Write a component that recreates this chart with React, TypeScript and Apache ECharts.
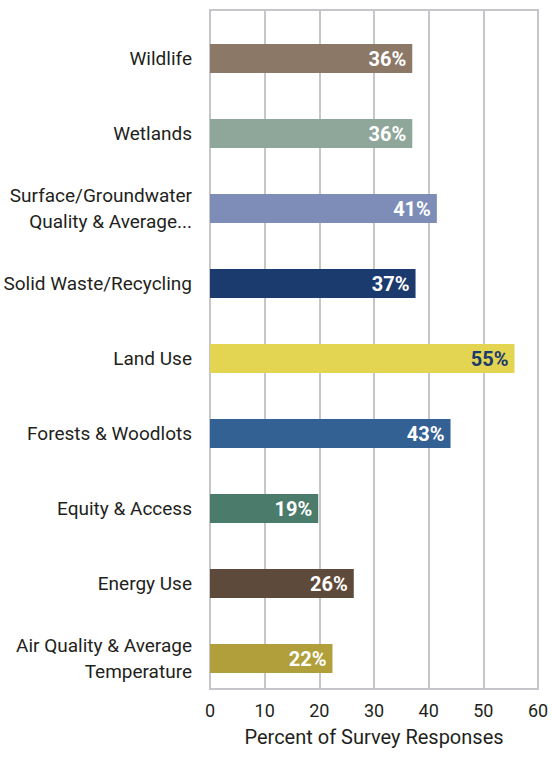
import React, { useEffect, useRef } from "react";
import * as echarts from "echarts";

const categories = [
  "Wildlife",
  "Wetlands",
  "Surface/Groundwater\nQuality & Average...",
  "Solid Waste/Recycling",
  "Land Use",
  "Forests & Woodlots",
  "Equity & Access",
  "Energy Use",
  "Air Quality & Average\nTemperature",
];
// bar lengths as drawn in the picture
const barValues = [37, 37, 41.5, 37.6, 55.7, 44, 19.8, 26.3, 22.4];
// percentages printed on the bars
const labelValues = [36, 36, 41, 37, 55, 43, 19, 26, 22];
const barColors = [
  "#8b7867",
  "#8fa69a",
  "#7d8db8",
  "#1b3a6e",
  "#e3d452",
  "#336194",
  "#4b7b6b",
  "#5e4a3a",
  "#b09f3a",
];
const labelColors = [
  "#ffffff",
  "#ffffff",
  "#ffffff",
  "#ffffff",
  "#1b3a6e",
  "#ffffff",
  "#ffffff",
  "#ffffff",
  "#ffffff",
];
const xTicks = { min: 0, max: 60, interval: 10 };
const xAxisName = "Percent of Survey Responses";

const FONT = "Roboto, 'Liberation Sans', Arial, sans-serif";

export default function App() {
  const ref = useRef<HTMLDivElement>(null);
  useEffect(() => {
    document.body.style.margin = "0";
    if (!ref.current) return;
    const chart = echarts.init(ref.current, null, { renderer: "svg" });
    chart.setOption({
      animation: false,
      backgroundColor: "#ffffff",
      textStyle: { fontFamily: FONT },
      grid: [
        {
          left: 210,
          right: 14,
          top: 10,
          bottom: 71,
          show: true,
          borderColor: "#c6c6ca",
          borderWidth: 2,
          backgroundColor: "transparent",
          containLabel: false,
          outerBoundsMode: "none",
        },
        {
          left: 210,
          right: 14,
          top: 21,
          bottom: 64,
          containLabel: false,
          outerBoundsMode: "none",
        },
      ],
      xAxis: [
        {
          gridIndex: 0,
          type: "value",
          min: xTicks.min,
          max: xTicks.max,
          interval: xTicks.interval,
          axisLine: { show: false },
          axisTick: { show: false },
          splitLine: { show: true, lineStyle: { color: "#c6c6ca", width: 2 } },
          axisLabel: { fontSize: 18, color: "#231f20", margin: 12, fontFamily: FONT },
          name: xAxisName,
          nameLocation: "middle",
          nameGap: 38,
          nameTextStyle: { fontSize: 20, color: "#231f20", fontFamily: FONT },
        },
        {
          gridIndex: 1,
          type: "value",
          min: xTicks.min,
          max: xTicks.max,
          show: false,
        },
      ],
      yAxis: [
        { gridIndex: 0, type: "value", show: false },
        {
          gridIndex: 1,
          type: "category",
          inverse: true,
          data: categories,
          axisLine: { show: false },
          axisTick: { show: false },
          splitLine: { show: false },
          axisLabel: {
            fontSize: 19,
            lineHeight: 26,
            color: "#231f20",
            margin: 18,
            fontFamily: FONT,
          },
        },
      ],
      series: [
        {
          type: "bar",
          xAxisIndex: 1,
          yAxisIndex: 1,
          barWidth: 29,
          data: barValues.map((v, i) => ({
            value: v,
            itemStyle: { color: barColors[i] },
            label: { color: labelColors[i] },
          })),
          label: {
            show: true,
            position: "insideRight",
            distance: 6,
            fontSize: 20,
            fontWeight: "bold",
            fontFamily: FONT,
            formatter: (p: any) => labelValues[p.dataIndex] + "%",
          },
        },
      ],
    });
    return () => chart.dispose();
  }, []);
  return <div ref={ref} style={{ width: 552, height: 760 }} />;
}
